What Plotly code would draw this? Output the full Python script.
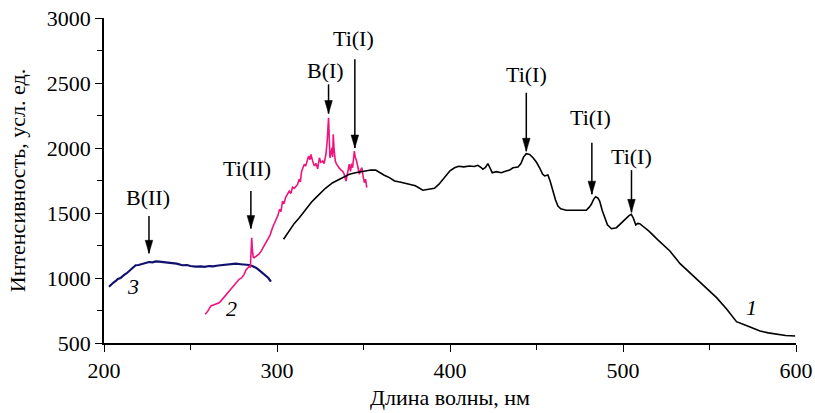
import plotly.graph_objects as go

# ---- data ----
wl_1 = [303.8, 306, 308, 310, 312.9, 315, 318, 320, 322.5, 325, 328, 332.2, 336, 341.8, 346, 350,
        354.3, 357, 359.2, 362, 365, 367.9, 371, 375, 380, 384.3, 387, 391, 393.5, 395.8, 398, 400,
        402.6, 405, 408, 411.3, 414, 416.1, 418, 419, 420.5, 421.9, 423, 424.4, 426.7, 429.6, 432.5,
        434.5, 436.4, 439.3, 441, 442.5, 444.1, 446, 448, 450, 451.8, 453.5, 454.7, 456.6, 458, 459.5,
        461, 462.4, 464, 467.2, 472, 478.8, 480.5, 481.7, 483, 484.2, 485.5, 486.5, 488, 489.4, 491,
        492.3, 493.3, 496.2, 498.1, 500, 502, 503.5, 504.8, 506, 507.4, 508.5, 509.7, 515, 520, 527.1,
        533, 540.6, 547, 554.1, 560, 565.6, 572, 579.2, 584, 588.8, 594, 599.5]
int_1 = [1298, 1340, 1380, 1420, 1464, 1500, 1550, 1585, 1618, 1650, 1690, 1733, 1760, 1798, 1812, 1822,
         1831, 1830, 1810, 1790, 1772, 1746, 1738, 1728, 1710, 1675, 1680, 1690, 1720, 1759, 1800, 1825,
         1848, 1860, 1855, 1862, 1858, 1867, 1850, 1836, 1850, 1880, 1850, 1810, 1818, 1810, 1823,
         1830, 1848, 1854, 1880, 1930, 1956, 1950, 1925, 1890, 1848, 1800, 1785, 1792, 1740, 1669,
         1600, 1554, 1532, 1521, 1519, 1521, 1545, 1567, 1605, 1625, 1615, 1592, 1520, 1464, 1410,
         1392, 1379, 1387, 1410, 1440, 1464, 1480, 1490, 1460, 1408, 1420, 1418, 1360, 1295, 1208,
         1110, 1015, 930, 849, 760, 664, 630, 592, 578, 567, 558, 554]

wl_2 = [258.5, 260, 261.8, 263.5, 265, 266.6, 268, 270, 272.3, 274, 276, 278.1, 279.5, 281, 282, 283,
        284, 284.6, 285.1, 285.4, 285.8, 286.3, 286.8, 288, 289.7, 291, 292.5, 294.5, 296, 297.5,
        299.3, 300.5, 301.5, 302.3, 303.2, 304, 305, 306, 307.1, 308, 309, 310, 311, 311.9, 312.8,
        313.5, 314.2, 314.8, 315.8, 316.5, 317.3, 318.3, 319, 319.6, 320.6, 321.6, 322.6, 323.5,
        324.5, 325.3, 326.4, 327.2, 328.3, 329.0, 329.8, 330.3, 330.6, 331.2, 331.8, 332.2, 332.5,
        333, 333.7, 334.3, 335, 336, 337, 337.9, 338.8, 339.9, 340.5, 341.2, 341.8, 342.5, 343.1,
        343.7, 344.2, 344.7, 345.2, 346, 346.8, 347.6, 348.3, 349.1, 349.8, 350.5, 351.2, 351.9]
int_2 = [721, 745, 785, 795, 805, 810, 830, 860, 900, 920, 950, 990, 1000, 1028, 1060, 1079,
         1090, 1080, 1200, 1310, 1210, 1160, 1156, 1170, 1185, 1210, 1245, 1285, 1330, 1390,
         1438, 1480, 1530, 1510, 1592, 1570, 1620, 1640, 1669, 1650, 1700, 1690, 1708, 1720, 1760,
         1740, 1820, 1848, 1875, 1860, 1900, 1938, 1910, 1950, 1900, 1862, 1880, 1840,
         1925, 1890, 1900, 1880, 1952, 2050, 2233, 2050, 1925, 1960, 2002, 1930, 2105,
         1990, 1900, 1880, 1862, 1845, 1830, 1823, 1800, 1746, 1790, 1850, 1875, 1820, 1880,
         1848, 1900, 1977, 1930, 1900, 1850, 1798, 1830, 1848, 1780, 1733, 1760, 1695]

wl_3 = [202.9, 204, 205.5, 206.8, 208, 209.5, 210.6, 212, 213, 214.5, 216, 217, 218.3, 220, 222.2, 224,
        226, 228, 230, 231.8, 234, 236, 237.6, 240, 242, 245.3, 248, 250, 253, 256, 258, 260.8, 263,
        266, 268.5, 271, 274, 276.2, 279, 282, 284, 286, 287.8, 289.5, 291.6, 293.5, 295, 296.5]
int_3 = [933, 950, 965, 977, 992, 1000, 1015, 1028, 1035, 1054, 1070, 1080, 1098, 1100, 1110, 1118,
         1123, 1120, 1128, 1126, 1122, 1124, 1118, 1112, 1110, 1098, 1100, 1092, 1087, 1090, 1085, 1092,
         1090, 1096, 1100, 1104, 1108, 1110, 1106, 1105, 1100, 1090, 1079, 1062, 1041, 1020, 1000, 972]

# line annotations: label, wavelength of arrow, arrow tip, arrow tail, label x, label y
line_labels = ["B(II)", "Ti(II)", "B(I)", "Ti(I)", "Ti(I)", "Ti(I)", "Ti(I)"]
line_wl = [226, 284.9, 329.8, 345, 444.1, 482, 504.9]
arrow_tip = [1190, 1380, 2265, 2000, 1975, 1645, 1505]
arrow_tail = [1477, 1669, 2490, 2682, 2425, 2041, 1830]
label_wl = [225.5, 282.5, 328.3, 344.3, 444.1, 481.2, 505]
label_int = [1623, 1842, 2600, 2842, 2569, 2231, 1938]

curve_names = ["1", "2", "3"]
curve_label_wl = [574.3, 273.5, 216.8]
curve_label_int = [771, 769, 938]

FONT = "Liberation Serif, Times New Roman, serif"

fig = go.Figure()
fig.add_trace(go.Scatter(x=wl_3, y=int_3, mode="lines", line=dict(color="#10106e", width=2.2),
                         showlegend=False, hoverinfo="skip"))
fig.add_trace(go.Scatter(x=wl_2, y=int_2, mode="lines", line=dict(color="#f0147c", width=1.6),
                         showlegend=False, hoverinfo="skip"))
fig.add_trace(go.Scatter(x=wl_1, y=int_1, mode="lines", line=dict(color="black", width=1.6),
                         showlegend=False, hoverinfo="skip"))

for lab, x, tip, tail, lx, ly in zip(line_labels, line_wl, arrow_tip, arrow_tail, label_wl, label_int):
    fig.add_shape(type="line", xref="x", yref="y", x0=x, x1=x, y0=tail, y1=tip,
                  line=dict(color="black", width=1.5))
    fig.add_shape(type="path", xref="x", yref="y", xsizemode="pixel", ysizemode="pixel",
                  xanchor=x, yanchor=tip, path="M -3.8 13 L 3.8 13 L 0 0 Z",
                  fillcolor="black", line=dict(color="black", width=0.5))
    fig.add_annotation(x=lx, y=ly, xref="x", yref="y", text=lab, showarrow=False,
                       font=dict(family=FONT, size=22, color="black"))

for name, x, y in zip(curve_names, curve_label_wl, curve_label_int):
    fig.add_annotation(x=x, y=y, xref="x", yref="y", text="<i>" + name + "</i>", showarrow=False,
                       font=dict(family=FONT, size=22, color="black"))

axis_common = dict(showline=True, linecolor="black", linewidth=1.6, ticks="outside", ticklen=7,
                   tickwidth=1.4, tickcolor="black", showgrid=False, zeroline=False, mirror=False,
                   tickfont=dict(family=FONT, size=22, color="black"))

fig.update_xaxes(range=[200, 600], dtick=100, tick0=200,
                 minor=dict(dtick=50, ticks="outside", ticklen=5, tickwidth=1.4, tickcolor="black"),
                 title=dict(text="Длина волны, нм", font=dict(family=FONT, size=22, color="black"),
                            standoff=7),
                 **axis_common)
fig.update_yaxes(range=[500, 3000], dtick=500, tick0=500,
                 minor=dict(dtick=250, ticks="outside", ticklen=5, tickwidth=1.4, tickcolor="black"),
                 title=dict(text="Интенсивность, усл. ед.", font=dict(family=FONT, size=22, color="black"),
                            standoff=15),
                 **axis_common)

fig.update_layout(width=815, height=413, margin=dict(l=104, r=19, t=18, b=70, autoexpand=False),
                  plot_bgcolor="white", paper_bgcolor="white", showlegend=False)

fig.write_html("out.html", config={"displayModeBar": False},
               post_script="document.body.style.margin='0';document.body.style.overflow='hidden';")
